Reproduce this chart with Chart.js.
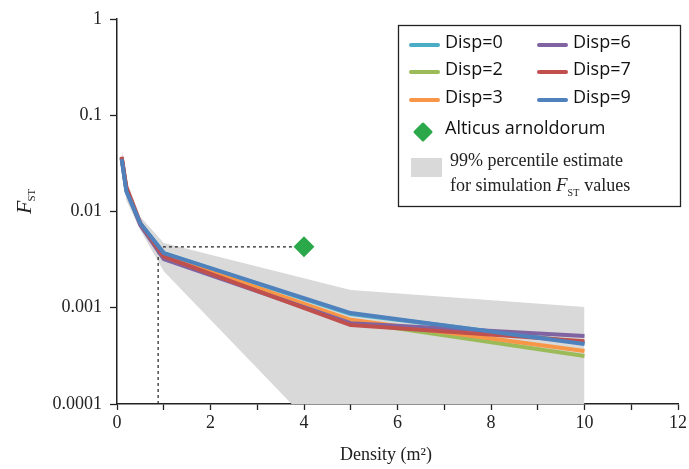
<!DOCTYPE html>
<html><head><meta charset="utf-8">
<script src="https://cdn.jsdelivr.net/npm/chart.js@4"></script>
<style>html,body{margin:0;padding:0;background:#fff}#wrap{width:689px;height:469px;position:relative}</style>
</head><body><div id="wrap"><canvas id="c" width="689" height="469"></canvas></div>
<script>
// ---- data ----
const density = [0.1, 0.2, 0.5, 1, 5, 10];
const disp0 = [0.036, 0.0165, 0.0075, 0.0037, 0.00086, 0.00043];
const disp2 = [0.036, 0.0170, 0.0074, 0.0035, 0.00072, 0.000316];
const disp3 = [0.036, 0.0170, 0.0074, 0.0035, 0.00075, 0.000356];
const disp6 = [0.036, 0.0170, 0.0072, 0.0032, 0.00069, 0.00051];
const disp7 = [0.037, 0.0180, 0.0075, 0.0034, 0.00066, 0.00045];
const disp9 = [0.035, 0.0162, 0.0075, 0.0037, 0.00088, 0.00042];
const bandUpper = [0.045, 0.021, 0.0088, 0.0047, 0.00153, 0.00102];
const bandLower = [0.030, 0.013, 0.0064, 0.0024, 0.000023, 0.000001];
const observedDensity = [4];
const observedFst = [0.0043];
const guideX = [0.88, 0.88, 4];
const guideY = [0.0001, 0.0043, 0.0043];
const xTicks = [0,1,2,3,4,5,6,7,8,9,10,11,12];
const yTicks = [0.0001, 0.001, 0.01, 0.1, 1];
const yTickLabels = ['0.0001', '0.001', '0.01', '0.1', '1'];
const seriesNames = ['Disp=0', 'Disp=2', 'Disp=3', 'Disp=6', 'Disp=7', 'Disp=9'];
const seriesValues = [disp0, disp2, disp3, disp6, disp7, disp9];
const seriesColors = ['#4BACC6', '#9BBB59', '#F79646', '#8064A2', '#C0504D', '#4F81BD'];
const observedName = 'Alticus arnoldorum';
const observedColor = '#2BA84A';
const bandColor = '#D9D9D9';

const pts = (xs, ys) => xs.map((x, i) => ({x, y: ys[i]}));

const datasets = [];
datasets.push({label: 'bandU', order: 100, data: pts(density, bandUpper), borderWidth: 0, pointRadius: 0, backgroundColor: bandColor, fill: '+1', tension: 0});
datasets.push({label: 'bandL', order: 99, data: pts(density, bandLower), borderWidth: 0, pointRadius: 0, backgroundColor: bandColor, fill: false, tension: 0});
datasets.push({label: 'guide', order: 50, data: pts(guideX, guideY), borderColor: '#222', borderWidth: 1.2, borderDash: [3, 3], pointRadius: 0, fill: false});
seriesNames.forEach((n, i) => datasets.push({label: n, order: 20 - i, data: pts(density, seriesValues[i]), borderColor: seriesColors[i], borderWidth: 4, pointRadius: 0, fill: false, tension: 0, borderJoinStyle: 'round'}));
datasets.push({label: observedName, order: 0, data: pts(observedDensity, observedFst), showLine: false, pointStyle: 'rectRot', pointRadius: 9, backgroundColor: observedColor, borderColor: observedColor, borderWidth: 2, borderJoinStyle: 'round'});

const serif = '"Liberation Serif", "Times New Roman", serif';
const sans = '"Open Sans", "Noto Sans", sans-serif';

const decor = {
  id: 'decor',
  afterDraw(chart) {
    const ctx = chart.ctx;
    ctx.save();
    // y title
    ctx.translate(24, 214);
    ctx.rotate(-Math.PI / 2);
    ctx.fillStyle = '#222';
    ctx.textBaseline = 'alphabetic';
    ctx.textAlign = 'left';
    ctx.font = 'italic 22px ' + serif;
    ctx.fillText('F', 0, 7);
    const fw = ctx.measureText('F').width;
    ctx.font = '11px ' + serif;
    ctx.fillText('ST', fw - 1, 11);
    ctx.restore();
    // x title
    ctx.save();
    ctx.fillStyle = '#222';
    ctx.font = '18px ' + serif;
    ctx.textAlign = 'center';
    ctx.textBaseline = 'middle';
    ctx.fillText('Density (m\u00B2)', 386, 455);
    // legend box
    ctx.strokeStyle = '#222';
    ctx.lineWidth = 1.3;
    ctx.strokeRect(398.5, 25.5, 282, 181);
    ctx.textAlign = 'left';
    ctx.font = '18px ' + sans;
    const rowsY = [45, 72, 100];
    seriesNames.forEach((n, i) => {
      const col = Math.floor(i / 3), row = i % 3;
      const x0 = col === 0 ? 411 : 539;
      const y = rowsY[row];
      ctx.strokeStyle = seriesColors[i];
      ctx.lineWidth = 4;
      ctx.lineCap = 'round';
      ctx.beginPath(); ctx.moveTo(x0, y); ctx.lineTo(x0 + 27, y); ctx.stroke();
      ctx.fillStyle = '#111';
      ctx.fillText(n, x0 + 34, y - 2);
    });
    // observed
    ctx.fillStyle = observedColor;
    ctx.strokeStyle = observedColor;
    ctx.lineWidth = 3;
    ctx.lineJoin = 'round';
    ctx.beginPath();
    ctx.moveTo(423, 124); ctx.lineTo(431, 132); ctx.lineTo(423, 140); ctx.lineTo(415, 132); ctx.closePath(); ctx.fill(); ctx.stroke();
    ctx.fillStyle = '#111';
    ctx.fillText(observedName, 445, 129);
    // band
    ctx.fillStyle = bandColor;
    ctx.fillRect(411, 158, 31, 19);
    ctx.fillStyle = '#222';
    ctx.font = '18px ' + serif;
    ctx.fillText('99% percentile estimate', 450, 161);
    const t1 = 'for simulation ';
    ctx.fillText(t1, 450, 186);
    let x = 450 + ctx.measureText(t1).width;
    ctx.font = 'italic 19px ' + serif;
    ctx.fillText('F', x, 186);
    x += ctx.measureText('F').width;
    ctx.font = '10px ' + serif;
    ctx.fillText('ST', x, 193);
    x += ctx.measureText('ST').width + 5;
    ctx.font = '18px ' + serif;
    ctx.fillText('values', x, 186);
    ctx.restore();
  }
};

new Chart(document.getElementById('c'), {
  type: 'line',
  data: {datasets},
  plugins: [decor],
  options: {
    responsive: false,
    devicePixelRatio: 1,
    animation: false,
    layout: {padding: {top: 19, right: 9, left: 0, bottom: 0}},
    plugins: {legend: {display: false}, tooltip: {enabled: false}},
    scales: {
      x: {
        type: 'linear', min: 0, max: 12,
        afterBuildTicks: s => { s.ticks = xTicks.map(v => ({value: v})); },
        afterFit: s => { s.height = 65; },
        ticks: {callback: v => (v % 2 === 0 ? String(v) : ''), autoSkip: false, maxRotation: 0, font: {family: serif, size: 18}, color: '#222', padding: 2},
        grid: {drawOnChartArea: false, drawTicks: true, tickLength: 6, tickColor: '#222', tickWidth: 1.3},
        border: {color: '#222', width: 1.5}
      },
      y: {
        type: 'logarithmic', min: 0.0001, max: 1,
        afterBuildTicks: s => { s.ticks = yTicks.map(v => ({value: v})); },
        afterFit: s => { s.width = 117; },
        ticks: {callback: (v, i) => yTickLabels[i], autoSkip: false, font: {family: serif, size: 18}, color: '#222', padding: 8},
        grid: {drawOnChartArea: false, drawTicks: true, tickLength: 7, tickColor: '#222', tickWidth: 1.3},
        border: {color: '#222', width: 1.5}
      }
    }
  }
});
</script></body></html>
